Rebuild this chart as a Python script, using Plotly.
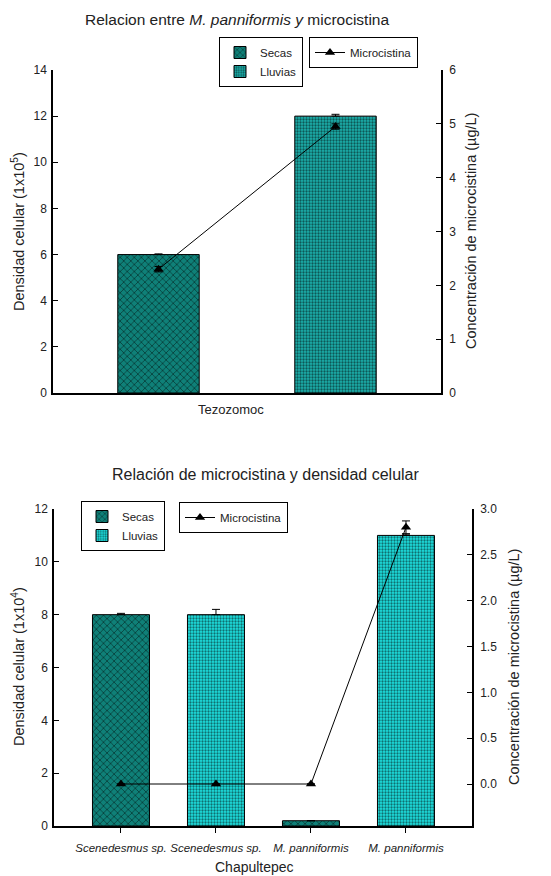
import plotly.graph_objects as go

# ---- Tezozomoc (upper panel) ----
top_secas = [6.0]
top_secas_err = [0.03]
top_lluvias = [12.0]
top_lluvias_err = [0.08]
top_micro = [2.3, 4.95]
top_micro_err = [0.05, 0.05]

# ---- Chapultepec (lower panel) ----
bot_labels = ["Scenedesmus sp.", "Scenedesmus sp.", "M. panniformis", "M. panniformis"]
bot_secas_x = [0, 2]
bot_secas = [8.0, 0.2]
bot_secas_err = [0.05, 0.0]
bot_lluvias_x = [1, 3]
bot_lluvias = [8.0, 11.0]
bot_lluvias_err = [0.2, 0.05]
bot_micro = [0.0, 0.0, 0.0, 2.8]
bot_micro_err = [0.0, 0.0, 0.0, 0.07]

W, H = 551, 876
FONT = "Liberation Sans, Arial, sans-serif"
SECAS_BG = "#0f8078"
LLUV_TOP_BG = "#1cb0ac"
LLUV_BOT_BG = "#1ee0e0"


def px_x(p):
    return p / W


def px_y(p):
    return 1 - p / H


err_style = dict(color="black", thickness=1, width=4)
bar_line = dict(color="black", width=1)

fig = go.Figure()

# upper panel bars
fig.add_trace(go.Bar(
    x=[0], y=top_secas, width=0.46, name="Secas", xaxis="x", yaxis="y",
    marker=dict(color=SECAS_BG, line=bar_line,
                pattern=dict(shape="x", fgcolor="black", bgcolor=SECAS_BG, size=5, solidity=0.3)),
    error_y=dict(type="data", array=top_secas_err, arrayminus=[0], symmetric=False, **err_style),
    legend="legend",
))
fig.add_trace(go.Bar(
    x=[1], y=top_lluvias, width=0.46, name="Lluvias", xaxis="x", yaxis="y",
    marker=dict(color=LLUV_TOP_BG, line=bar_line,
                pattern=dict(shape=".", fgcolor="black", bgcolor=LLUV_TOP_BG, size=3, solidity=0.45)),
    error_y=dict(type="data", array=top_lluvias_err, arrayminus=[0], symmetric=False, **err_style),
    legend="legend",
))
fig.add_trace(go.Scatter(
    x=[0, 1], y=top_micro, name="Microcistina", mode="lines+markers", xaxis="x", yaxis="y2",
    line=dict(color="black", width=1),
    marker=dict(symbol="triangle-up", size=9, color="black"),
    error_y=dict(type="data", array=top_micro_err, **err_style),
    legend="legend2",
))

# lower panel bars
fig.add_trace(go.Bar(
    x=bot_secas_x, y=bot_secas, width=0.6, name="Secas", xaxis="x2", yaxis="y3",
    marker=dict(color=SECAS_BG, line=bar_line,
                pattern=dict(shape="x", fgcolor="black", bgcolor=SECAS_BG, size=5, solidity=0.3)),
    error_y=dict(type="data", array=bot_secas_err, arrayminus=[0, 0], symmetric=False, **err_style),
    legend="legend3",
))
fig.add_trace(go.Bar(
    x=bot_lluvias_x, y=bot_lluvias, width=0.6, name="Lluvias", xaxis="x2", yaxis="y3",
    marker=dict(color=LLUV_BOT_BG, line=bar_line,
                pattern=dict(shape=".", fgcolor="black", bgcolor=LLUV_BOT_BG, size=3, solidity=0.45)),
    error_y=dict(type="data", array=bot_lluvias_err, arrayminus=[0, 0], symmetric=False, **err_style),
    legend="legend3",
))
fig.add_trace(go.Scatter(
    x=[0, 1, 2, 3], y=bot_micro, name="Microcistina", mode="lines+markers", xaxis="x2", yaxis="y4",
    line=dict(color="black", width=1),
    marker=dict(symbol="triangle-up", size=9, color="black"),
    error_y=dict(type="data", array=bot_micro_err, **err_style),
    legend="legend4",
))

tickfont = dict(family=FONT, size=12, color="#222")
axis_common = dict(showgrid=False, zeroline=False, showline=True, linecolor="black",
                   linewidth=1.5, tickcolor="black", tickfont=tickfont, automargin=False)

top_dom_y = [px_y(393), px_y(70)]
bot_dom_y = [px_y(826), px_y(509)]

legend_common = dict(bordercolor="black", borderwidth=1, bgcolor="white",
                     font=dict(family=FONT, size=11.5, color="#222"),
                     xanchor="left", yanchor="top", tracegroupgap=0,
                     itemwidth=30)

fig.update_layout(
    width=W, height=H,
    margin=dict(l=0, r=0, t=0, b=0, autoexpand=False),
    paper_bgcolor="white", plot_bgcolor="white",
    barmode="overlay",
    font=dict(family=FONT, color="#222"),
    xaxis=dict(domain=[px_x(53), px_x(441)], range=[-0.596, 1.596], anchor="y",
               showticklabels=False, ticks="", **axis_common),
    yaxis=dict(domain=top_dom_y, range=[0, 14], dtick=2, ticks="inside", ticklen=5,
               anchor="x", ticklabelstandoff=2, **axis_common),
    yaxis2=dict(range=[0, 6], dtick=1, overlaying="y", side="right", anchor="x",
                ticks="inside", ticklen=5, ticklabelstandoff=4, **axis_common),
    xaxis2=dict(domain=[px_x(54), px_x(472)], range=[-0.705, 3.695], anchor="y3",
                tickvals=[0, 1, 2, 3], ticktext=[f"<i>{t}</i>" for t in bot_labels],
                tickangle=0, ticks="outside", ticklen=5, ticklabelstandoff=5,
                showline=True, linecolor="black", linewidth=1.5, tickcolor="black",
                showgrid=False, zeroline=False, automargin=False,
                tickfont=dict(family=FONT, size=11.5, color="#222")),
    yaxis3=dict(domain=bot_dom_y, range=[0, 12], dtick=2, ticks="inside", ticklen=5,
                anchor="x2", ticklabelstandoff=2, **axis_common),
    yaxis4=dict(range=[-0.458, 3.0], tickvals=[0, 0.5, 1, 1.5, 2, 2.5, 3],
                tickformat=".1f", overlaying="y3", side="right", anchor="x2",
                ticks="inside", ticklen=5, ticklabelstandoff=4, **axis_common),
    legend=dict(x=px_x(219), y=px_y(37), **legend_common),
    legend2=dict(x=px_x(309), y=px_y(37), **legend_common),
    legend3=dict(x=px_x(81), y=px_y(501), **legend_common),
    legend4=dict(x=px_x(179), y=px_y(502), **legend_common),
    showlegend=True,
)

ann_font = dict(family=FONT, color="#222")
annotations = [
    dict(text="Relacion entre <i>M. panniformis y</i> microcistina", x=px_x(237), y=px_y(20),
         font=dict(size=15.5, **ann_font)),
    dict(text="Tezozomoc", x=px_x(231), y=px_y(410), font=dict(size=13, **ann_font)),
    dict(text="Densidad celular (1x10<sup>5</sup>)", x=px_x(18), y=px_y(232), textangle=-90,
         font=dict(size=14.5, **ann_font)),
    dict(text="Concentración de microcistina (µg/L)", x=px_x(471), y=px_y(231), textangle=-90,
         font=dict(size=14.5, **ann_font)),
    dict(text="Relación de microcistina y densidad celular", x=px_x(265), y=px_y(474),
         font=dict(size=16, **ann_font)),
    dict(text="Chapultepec", x=px_x(255), y=px_y(867), font=dict(size=14, **ann_font)),
    dict(text="Densidad celular (1x10<sup>4</sup>)", x=px_x(18), y=px_y(667), textangle=-90,
         font=dict(size=14.5, **ann_font)),
    dict(text="Concentración de microcistina (µg/L)", x=px_x(514), y=px_y(667), textangle=-90,
         font=dict(size=14.5, **ann_font)),
]
for a in annotations:
    a.update(xref="paper", yref="paper", showarrow=False, xanchor="center", yanchor="middle")
fig.update_layout(annotations=annotations)

fig.write_html("out.html")
